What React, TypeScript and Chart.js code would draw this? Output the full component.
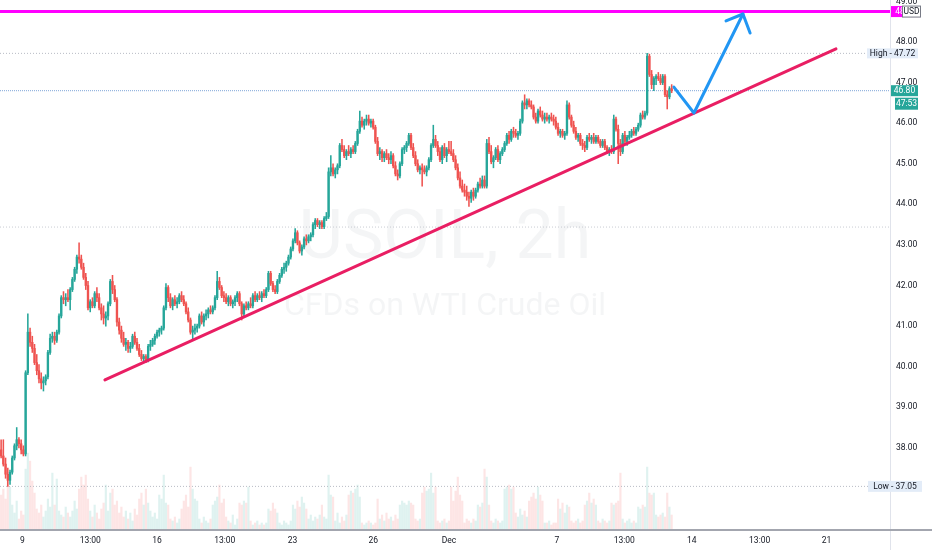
import { useEffect, useRef } from 'react';
import { Chart, registerables } from 'chart.js';

Chart.register(...registerables);

// open, high, low, close for each 2h bar (index = bar number)
const candles: [number, number, number, number][] = [
  [37.95,38.2,37.75,37.8],[37.8,38.2,37.55,37.6],[37.6,37.75,37.25,37.35],[37.35,37.5,37.05,37.2],[37.2,37.45,37.1,37.4],[37.4,37.8,37.35,37.75],
  [37.75,38.1,37.7,38.05],[38.05,38.5,37.95,38.2],[38.2,38.25,38.0,38.1],[38.1,38.2,37.85,37.95],[37.95,38.05,37.8,37.85],[37.85,39.9,37.8,39.85],
  [39.85,41.3,39.8,40.85],[40.85,40.95,40.5,40.6],[40.6,40.75,40.35,40.45],[40.45,40.55,40.05,40.1],[40.1,40.3,39.8,39.9],[39.9,40.05,39.6,39.7],
  [39.7,39.85,39.45,39.6],[39.6,39.75,39.4,39.65],[39.65,39.8,39.55,39.75],[39.75,40.4,39.7,40.35],[40.35,40.8,40.3,40.7],[40.7,40.85,40.6,40.75],
  [40.75,40.85,40.55,40.65],[40.65,40.9,40.6,40.85],[40.85,41.3,40.8,41.25],[41.25,41.75,41.2,41.7],[41.7,41.85,41.55,41.65],[41.65,41.8,41.5,41.7],
  [41.7,41.9,41.6,41.65],[41.65,41.95,41.4,41.9],[41.9,42.2,41.85,42.15],[42.15,42.45,42.1,42.4],[42.4,42.75,42.3,42.7],[42.7,43.05,42.55,42.65],
  [42.65,42.75,42.4,42.45],[42.45,42.55,42.15,42.2],[42.2,42.3,41.9,42.0],[42.0,42.1,41.4,41.45],[41.45,41.65,41.35,41.6],[41.6,41.7,41.45,41.5],
  [41.5,41.85,41.45,41.8],[41.8,41.95,41.6,41.7],[41.7,41.8,41.4,41.45],[41.45,41.55,41.15,41.3],[41.3,41.5,41.05,41.2],[41.2,41.35,41.0,41.25],
  [41.25,41.6,41.15,41.55],[41.55,42.15,41.5,42.1],[42.1,42.25,41.8,41.9],[41.9,42.0,41.6,41.65],[41.65,41.7,41.0,41.1],[41.1,41.2,40.8,40.9],
  [40.9,41.0,40.6,40.7],[40.7,40.85,40.5,40.55],[40.55,40.7,40.4,40.6],[40.6,40.65,40.35,40.45],[40.45,40.6,40.35,40.5],[40.5,40.8,40.45,40.75],
  [40.75,40.85,40.55,40.6],[40.6,40.7,40.4,40.45],[40.45,40.55,40.25,40.3],[40.3,40.4,40.15,40.2],[40.2,40.3,40.1,40.25],[40.25,40.3,40.1,40.15],
  [40.15,40.55,40.12,40.5],[40.5,40.65,40.4,40.55],[40.55,40.7,40.5,40.65],[40.65,40.8,40.55,40.75],[40.75,40.9,40.7,40.85],[40.85,40.95,40.75,40.9],
  [40.9,41.0,40.8,40.95],[40.95,41.5,40.9,41.45],[41.45,42.05,41.4,41.95],[41.95,42.0,41.6,41.7],[41.7,41.8,41.45,41.5],[41.5,41.7,41.4,41.65],
  [41.65,41.75,41.5,41.55],[41.55,41.7,41.45,41.6],[41.6,41.8,41.55,41.75],[41.75,41.85,41.6,41.65],[41.65,41.75,41.5,41.55],[41.55,41.6,41.3,41.35],
  [41.35,41.45,41.1,41.15],[41.15,41.2,40.8,40.85],[40.85,41.0,40.65,40.9],[40.9,41.05,40.8,40.95],[40.95,41.05,40.85,41.0],[41.0,41.3,40.95,41.25],
  [41.25,41.35,41.05,41.1],[41.1,41.3,41.0,41.25],[41.25,41.4,41.15,41.3],[41.3,41.45,41.2,41.4],[41.4,41.5,41.3,41.35],[41.35,41.5,41.3,41.45],
  [41.45,41.75,41.4,41.7],[41.7,42.35,41.65,42.1],[42.1,42.2,41.9,41.95],[41.95,42.0,41.7,41.75],[41.75,41.85,41.6,41.7],[41.7,41.8,41.55,41.6],
  [41.6,41.75,41.5,41.7],[41.7,41.75,41.5,41.55],[41.55,41.65,41.45,41.6],[41.6,41.75,41.5,41.7],[41.7,41.85,41.6,41.8],[41.8,41.85,41.5,41.55],
  [41.55,41.6,41.15,41.3],[41.3,41.55,41.25,41.5],[41.5,41.6,41.4,41.45],[41.45,41.6,41.4,41.55],[41.55,41.7,41.45,41.5],[41.5,41.8,41.45,41.75],
  [41.75,41.85,41.6,41.65],[41.65,41.8,41.6,41.75],[41.75,41.85,41.65,41.7],[41.7,41.85,41.6,41.8],[41.8,41.9,41.7,41.75],[41.75,41.95,41.7,41.9],
  [41.9,42.35,41.85,42.3],[42.3,42.35,42.0,42.05],[42.05,42.1,41.85,41.9],[41.9,42.0,41.8,41.85],[41.85,42.15,41.8,42.1],[42.1,42.3,42.05,42.25],
  [42.25,42.45,42.2,42.4],[42.4,42.55,42.3,42.45],[42.45,42.6,42.35,42.55],[42.55,42.75,42.5,42.7],[42.7,42.95,42.65,42.9],[42.9,43.15,42.85,43.1],
  [43.1,43.4,43.05,43.3],[43.3,43.35,43.0,43.05],[43.05,43.1,42.8,42.85],[42.85,43.0,42.75,42.95],[42.95,43.2,42.9,43.15],[43.15,43.25,43.0,43.1],
  [43.1,43.25,43.05,43.2],[43.2,43.3,43.1,43.25],[43.25,43.55,43.2,43.5],[43.5,43.65,43.4,43.6],[43.6,43.65,43.45,43.5],[43.5,43.6,43.4,43.55],
  [43.55,43.6,43.4,43.45],[43.45,43.7,43.4,43.65],[43.65,43.8,43.6,43.7],[43.7,44.9,43.65,44.8],[44.8,45.2,44.7,44.9],[44.9,45.0,44.7,44.75],
  [44.75,44.9,44.65,44.85],[44.85,45.0,44.75,44.95],[44.95,45.5,44.9,45.45],[45.45,45.6,45.3,45.35],[45.35,45.45,45.15,45.2],[45.2,45.35,45.1,45.3],
  [45.3,45.45,45.2,45.25],[45.25,45.4,45.15,45.35],[45.35,45.45,45.25,45.3],[45.3,45.55,45.25,45.5],[45.5,45.85,45.45,45.8],[45.8,46.3,45.75,46.05],
  [46.05,46.15,45.9,45.95],[45.95,46.1,45.85,46.05],[46.05,46.2,45.95,46.1],[46.1,46.2,45.95,46.0],[46.0,46.1,45.9,46.05],[46.05,46.1,45.85,45.9],
  [45.9,45.95,45.5,45.55],[45.55,45.65,45.2,45.25],[45.25,45.4,45.1,45.3],[45.3,45.35,45.05,45.15],[45.15,45.3,45.05,45.25],[45.25,45.35,45.1,45.15],
  [45.15,45.25,45.0,45.1],[45.1,45.3,45.0,45.2],[45.2,45.25,44.9,44.95],[44.95,45.05,44.7,44.75],[44.75,44.85,44.6,44.7],[44.7,45.05,44.65,45.0],
  [45.0,45.4,44.95,45.35],[45.35,45.45,45.25,45.4],[45.4,45.55,45.3,45.5],[45.5,45.75,45.45,45.7],[45.7,45.75,45.35,45.4],[45.4,45.5,45.15,45.2],
  [45.2,45.3,44.95,45.0],[45.0,45.1,44.8,44.85],[44.85,44.95,44.75,44.9],[44.9,45.0,44.45,44.85],[44.85,44.95,44.75,44.8],[44.8,44.95,44.7,44.9],
  [44.9,45.15,44.85,45.1],[45.1,45.5,45.05,45.45],[45.45,45.95,45.4,45.6],[45.6,45.7,45.4,45.45],[45.45,45.55,45.2,45.3],[45.3,45.4,45.05,45.1],
  [45.1,45.45,45.0,45.4],[45.4,45.5,45.15,45.2],[45.2,45.4,45.05,45.35],[45.35,45.55,45.25,45.3],[45.3,45.55,45.2,45.25],[45.25,45.35,45.05,45.1],
  [45.1,45.2,44.85,44.9],[44.9,45.0,44.6,44.65],[44.65,44.8,44.4,44.45],[44.45,44.6,44.3,44.35],[44.35,44.5,44.2,44.3],[44.3,44.45,44.1,44.2],
  [44.2,44.3,43.95,44.15],[44.15,44.35,44.05,44.3],[44.3,44.4,44.1,44.2],[44.2,44.4,44.15,44.35],[44.35,44.55,44.3,44.5],[44.5,44.65,44.4,44.45],
  [44.45,44.7,44.4,44.6],[44.6,44.7,44.4,44.45],[44.45,45.6,44.4,45.5],[45.5,45.65,45.25,45.3],[45.3,45.45,45.0,45.05],[45.05,45.2,44.9,45.15],
  [45.15,45.4,45.1,45.35],[45.35,45.45,45.05,45.1],[45.1,45.3,45.0,45.25],[45.25,45.4,45.2,45.35],[45.35,45.55,45.3,45.5],[45.5,45.75,45.45,45.7],
  [45.7,45.8,45.5,45.6],[45.6,45.85,45.55,45.8],[45.8,45.9,45.65,45.75],[45.75,45.85,45.65,45.7],[45.7,45.8,45.6,45.75],[45.75,46.1,45.7,46.05],
  [46.05,46.55,46.0,46.5],[46.5,46.7,46.35,46.45],[46.45,46.6,46.35,46.55],[46.55,46.6,46.4,46.45],[46.45,46.55,46.35,46.4],[46.4,46.45,46.1,46.15],
  [46.15,46.25,46.0,46.05],[46.05,46.35,46.0,46.3],[46.3,46.4,46.15,46.2],[46.2,46.3,46.05,46.1],[46.1,46.25,46.0,46.15],[46.15,46.25,46.05,46.1],
  [46.1,46.2,46.0,46.15],[46.15,46.25,46.05,46.1],[46.1,46.2,45.95,46.05],[46.05,46.15,45.85,45.9],[45.9,46.0,45.7,45.75],[45.75,45.85,45.65,45.8],
  [45.8,45.85,45.65,45.7],[45.7,45.8,45.6,45.75],[45.75,46.55,45.7,46.45],[46.45,46.5,46.1,46.15],[46.15,46.2,45.9,45.95],[45.95,46.05,45.75,45.8],
  [45.8,45.9,45.6,45.65],[45.65,45.75,45.55,45.7],[45.7,45.75,45.45,45.5],[45.5,45.6,45.35,45.45],[45.45,45.55,45.3,45.4],[45.4,45.7,45.35,45.65],
  [45.65,45.75,45.55,45.6],[45.6,45.7,45.5,45.65],[45.65,45.75,45.5,45.55],[45.55,45.7,45.5,45.65],[45.65,45.7,45.5,45.55],[45.55,45.6,45.4,45.45],
  [45.45,45.6,45.4,45.55],[45.55,45.6,45.35,45.4],[45.4,45.45,45.25,45.3],[45.3,45.4,45.2,45.35],[45.35,45.45,45.25,45.3],[45.3,46.2,45.25,46.1],
  [46.1,46.15,45.8,45.85],[45.85,45.95,45.0,45.5],[45.5,45.6,45.2,45.3],[45.3,45.75,45.25,45.7],[45.7,45.8,45.5,45.55],[45.55,45.7,45.45,45.65],
  [45.65,45.8,45.6,45.7],[45.7,45.85,45.65,45.8],[45.8,45.9,45.7,45.75],[45.75,45.9,45.7,45.85],[45.85,46.0,45.8,45.95],[45.95,46.25,45.9,46.2],
  [46.2,46.3,46.1,46.15],[46.15,46.3,46.1,46.25],[46.25,47.72,46.2,47.65],[47.65,47.7,47.15,47.2],[47.2,47.3,46.85,46.95],[46.95,47.15,46.8,47.1],
  [47.1,47.2,46.95,47.15],[47.15,47.25,47.05,47.1],[47.1,47.2,46.95,47.0],[47.0,47.2,46.95,47.15],[47.15,47.2,46.65,46.7],[46.7,46.8,46.35,46.65],
  [46.65,46.9,46.6,46.85],[46.85,46.95,46.75,46.8],
];

// volume per bar (thousands)
const volumes: number[] = [
  17,20,15,26,21,12,8,14,5,9,7,30,
  38,34,24,18,10,8,12,6,9,15,11,
  28,12,25,9,7,6,11,8,6,9,14,10,20,
  26,22,27,15,9,6,12,8,5,10,13,22,9,18,20,12,14,8,
  11,6,9,5,8,4,10,7,15,18,12,20,13,9,6,8,5,
  17,15,27,13,12,5,4,6,3,5,10,14,17,11,31,20,
  15,14,5,3,6,4,3,5,12,14,16,22,13,15,6,
  4,3,7,2,5,13,12,14,13,21,4,2,3,4,2,3,2,3,
  10,9,13,10,8,3,2,4,3,2,4,12,10,14,11,16,13,10,
  5,7,4,6,5,7,12,6,5,27,17,16,4,8,3,6,4,7,
  17,19,18,20,22,16,3,2,3,4,3,2,3,15,5,7,4,
  8,5,6,4,7,5,12,14,13,12,14,13,12,5,4,5,18,21,
  19,20,28,18,21,4,3,4,5,3,4,21,14,19,26,17,14,
  3,5,4,3,5,4,12,11,13,30,26,12,4,3,5,4,3,4,20,
  21,22,20,21,8,6,10,7,9,6,14,16,18,15,21,17,14,
  3,3,4,2,3,3,15,10,13,8,12,11,4,3,4,5,3,4,
  12,14,18,13,15,12,4,3,5,4,3,4,13,12,13,14,28,5,
  3,4,5,3,4,3,11,10,12,11,31,18,17,18,7,6,7,8,6,18,11,7,
];

const timeTickBars = [9.6, 40, 70, 100.4, 130.8, 167, 201, 249.5, 279.7, 310, 340.5, 370.5];
const timeTickLabels = ['9', '13:00', '16', '13:00', '23', '26', 'Dec', '7', '13:00', '14', '13:00', '21'];
const priceTicks = [38, 39, 40, 41, 42, 43, 44, 45, 46, 47, 48, 49];

const resistance = 48.75;
const sessionHigh = 47.72;
const sessionLow = 37.05;
const lastPrice = 46.8;
const prevClose = 43.44;
const countdown = '47:53';

// drawings: bar index / price
const trendLine = [{ x: 46.6, y: 39.675 }, { x: 374.75, y: 47.83 }];
const arrowPath = [{ x: 302, y: 46.89 }, { x: 311, y: 46.25 }, { x: 333, y: 48.69 }];
const arrowHead = [{ x: 325.4, y: 48.52 }, { x: 333, y: 48.69 }, { x: 336.2, y: 48.22 }];

const X_MIN = -0.5;
const X_MAX = 399;
const UP = '#26a69a';
const DOWN = '#ef5350';
const FONT = 'Roboto, "Noto Sans", sans-serif';
const TEXT = '#131722';

const isUp = (c: [number, number, number, number]) => c[3] >= c[0];
const level = (v: number) => [{ x: X_MIN, y: v }, { x: X_MAX, y: v }];

function labelBox(ctx: CanvasRenderingContext2D, x: number, yc: number, w: number, h: number,
  bg: string, fg: string, text: string, border?: string) {
  ctx.fillStyle = bg;
  ctx.fillRect(x, yc - h / 2, w, h);
  if (border) {
    ctx.strokeStyle = border;
    ctx.lineWidth = 1;
    ctx.strokeRect(x + 0.5, yc - h / 2 + 0.5, w - 1, h - 1);
  }
  ctx.fillStyle = fg;
  ctx.textAlign = 'center';
  ctx.textBaseline = 'middle';
  ctx.fillText(text, x + w / 2, yc + 0.5);
}

const watermark = {
  id: 'watermark',
  beforeDatasetsDraw(chart: any) {
    const { ctx, chartArea } = chart;
    const cx = (chartArea.left + chartArea.right) / 2;
    ctx.save();
    ctx.fillStyle = 'rgba(120,123,134,0.08)';
    ctx.textAlign = 'center';
    ctx.textBaseline = 'alphabetic';
    ctx.font = `68px ${FONT}`;
    ctx.fillText('USOIL, 2h', cx, chartArea.top + 258);
    ctx.font = `32px ${FONT}`;
    ctx.fillText('CFDs on WTI Crude Oil', cx, chartArea.top + 315);
    ctx.restore();
  },
};

const priceLabels = {
  id: 'priceLabels',
  afterDraw(chart: any) {
    const { ctx, chartArea, scales } = chart;
    const y = scales.y;
    const right = chartArea.right;
    ctx.save();
    ctx.strokeStyle = '#e0e3eb';
    ctx.lineWidth = 1;
    ctx.beginPath();
    ctx.moveTo(right + 0.5, 0);
    ctx.lineTo(right + 0.5, chart.height);
    ctx.stroke();
    ctx.strokeStyle = '#a3a6af';
    ctx.lineWidth = 2;
    ctx.beginPath();
    ctx.moveTo(0, chartArea.bottom + 1);
    ctx.lineTo(chart.width, chartArea.bottom + 1);
    ctx.stroke();

    ctx.font = `8.5px ${FONT}`;
    const yr = y.getPixelForValue(resistance);
    labelBox(ctx, right + 1, yr, 30, 11, '#ff00ff', '#ffffff', resistance.toFixed(2));
    labelBox(ctx, right + 12, yr, 19, 12, '#ffffff', TEXT, 'USD', '#787b86');

    const yh = y.getPixelForValue(sessionHigh);
    labelBox(ctx, right - 23, yh, 51, 10, '#e3ecf8', TEXT, `High - ${sessionHigh.toFixed(2)}`);

    const yl = y.getPixelForValue(sessionLow);
    labelBox(ctx, right - 22, yl, 54, 11, '#e3ecf8', TEXT, `Low - ${sessionLow.toFixed(2)}`);

    const yp = y.getPixelForValue(lastPrice);
    labelBox(ctx, right + 1, yp, 27, 11, UP, '#ffffff', lastPrice.toFixed(2));
    labelBox(ctx, right + 5, yp + 13, 23, 12, UP, '#ffffff', countdown);
    ctx.restore();
  },
};

export default function App() {
  const chartRef = useRef<HTMLCanvasElement>(null);

  useEffect(() => {
    if (!chartRef.current) return;
    const ctx = chartRef.current.getContext('2d');
    if (!ctx) return;

    const candleColors = candles.map((c) => (isUp(c) ? UP : DOWN));
    const volumeColors = candles.map((c) => (isUp(c) ? 'rgba(38,166,154,0.15)' : 'rgba(239,83,80,0.15)'));

    const dotted = (label: string, v: number, color: string, dash: number[]) => ({
      type: 'line' as const,
      label,
      data: level(v),
      borderColor: color,
      borderWidth: 1,
      borderDash: dash,
      pointRadius: 0,
      order: 9,
    });

    const chart = new Chart(ctx, {
      type: 'bar',
      data: {
        datasets: [
          {
            type: 'bar',
            label: 'Volume',
            data: volumes.map((v, i) => ({ x: i, y: v })),
            yAxisID: 'vol',
            backgroundColor: volumeColors,
            barThickness: 1.5,
            grouped: false,
            order: 10,
          },
          dotted('Prev', prevClose, '#c9ccd3', [1, 2]),
          dotted('High', sessionHigh, '#b8bbc4', [1, 2]),
          dotted('Low', sessionLow, '#b8bbc4', [1, 2]),
          dotted('Last', lastPrice, '#7fa6d8', [1, 1]),
          {
            type: 'line',
            label: 'Resistance',
            data: level(resistance),
            borderColor: '#ff00ff',
            borderWidth: 3,
            pointRadius: 0,
            order: 2,
          },
          {
            type: 'bar',
            label: 'Wick',
            data: candles.map((c, i) => ({ x: i, y: [c[2], c[1]] })),
            backgroundColor: candleColors,
            barThickness: 0.9,
            grouped: false,
            order: 6,
          },
          {
            type: 'bar',
            label: 'Body',
            data: candles.map((c, i) => ({ x: i, y: [c[0], c[3]] })),
            backgroundColor: candleColors,
            barThickness: 1.7,
            minBarLength: 1,
            grouped: false,
            order: 5,
          },
          {
            type: 'line',
            label: 'Trend',
            data: trendLine,
            borderColor: '#e91e63',
            borderWidth: 3,
            borderCapStyle: 'round',
            pointRadius: 0,
            order: 3,
          },
          {
            type: 'line',
            label: 'Arrow',
            data: arrowPath,
            borderColor: '#2196f3',
            borderWidth: 3,
            borderCapStyle: 'round',
            borderJoinStyle: 'round',
            pointRadius: 0,
            order: 1,
          },
          {
            type: 'line',
            label: 'Arrow head',
            data: arrowHead,
            borderColor: '#2196f3',
            borderWidth: 3,
            borderCapStyle: 'round',
            borderJoinStyle: 'round',
            pointRadius: 0,
            order: 1,
          },
        ] as any,
      },
      options: {
        responsive: false,
        animation: false,
        events: [],
        layout: { padding: 0 },
        plugins: {
          legend: { display: false },
          tooltip: { enabled: false },
        },
        scales: {
          x: {
            type: 'linear',
            min: X_MIN,
            max: X_MAX,
            offset: false,
            grid: { display: false, drawTicks: false },
            border: { display: false },
            afterBuildTicks: (axis: any) => {
              axis.ticks = timeTickBars.map((v) => ({ value: v }));
            },
            afterFit: (axis: any) => {
              axis.height = 21;
              axis.paddingLeft = 0;
              axis.paddingRight = 0;
            },
            ticks: {
              autoSkip: false,
              maxRotation: 0,
              padding: 7,
              color: TEXT,
              font: { family: FONT, size: 8.5 },
              callback: (_v: any, i: number) => timeTickLabels[i],
            },
          },
          y: {
            type: 'linear',
            position: 'right',
            min: 36.0,
            max: 49.035,
            grid: { display: false, drawTicks: false },
            border: { display: false },
            afterBuildTicks: (axis: any) => {
              axis.ticks = priceTicks.map((v) => ({ value: v }));
            },
            afterFit: (axis: any) => {
              axis.width = 42;
              axis.paddingTop = 0;
              axis.paddingBottom = 0;
            },
            ticks: {
              padding: 6,
              color: TEXT,
              font: { family: FONT, size: 8.5 },
              callback: (v: any) => Number(v).toFixed(2),
            },
          },
          vol: {
            type: 'linear',
            display: false,
            min: 0,
            max: 265,
          },
        },
      } as any,
      plugins: [watermark, priceLabels],
    });

    return () => chart.destroy();
  }, []);

  return (
    <div style={{ position: 'fixed', left: 0, top: 0, width: 932, height: 550, background: '#ffffff' }}>
      <canvas ref={chartRef} width={932} height={550} style={{ width: 932, height: 550 }} />
    </div>
  );
}
